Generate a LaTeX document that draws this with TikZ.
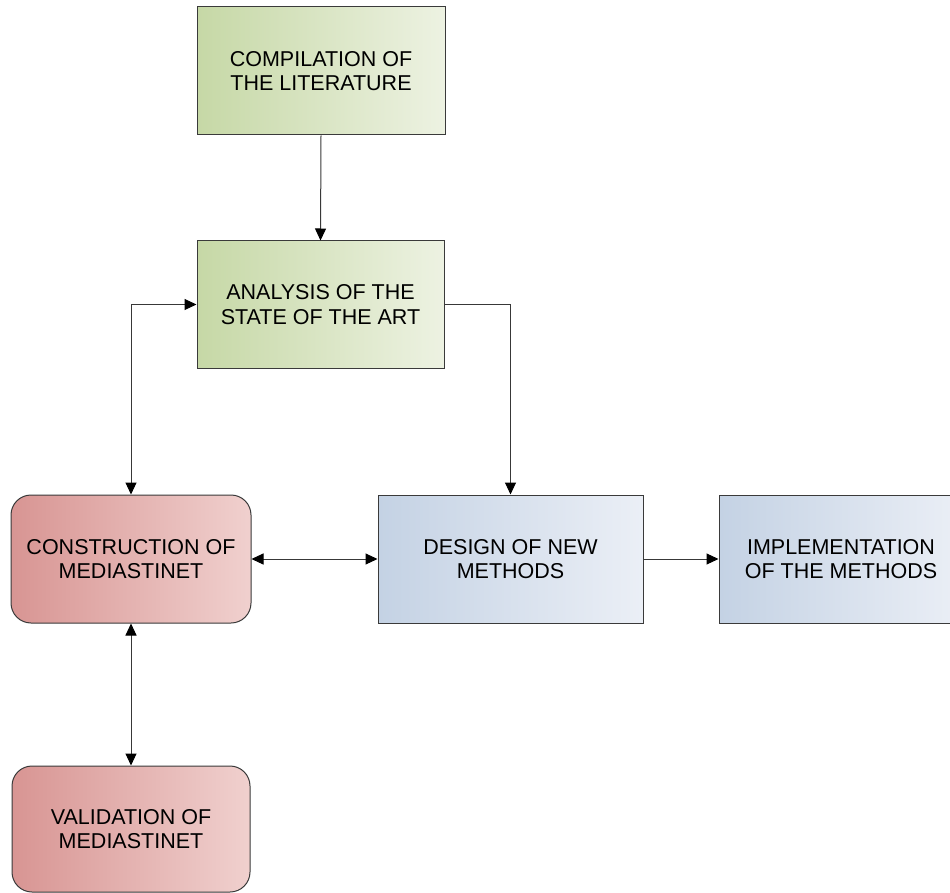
\documentclass[tikz,border=0pt]{standalone}
\usepackage{fontspec}
\setmainfont{Liberation Sans}
\usetikzlibrary{arrows.meta}

\definecolor{grnL}{HTML}{C6D8A6}
\definecolor{grnR}{HTML}{EDF2E2}
\definecolor{redL}{HTML}{D89593}
\definecolor{redR}{HTML}{F0D0CE}
\definecolor{bluL}{HTML}{C4D2E4}
\definecolor{bluR}{HTML}{EBEFF6}
\definecolor{edge}{HTML}{3A3A3A}
\definecolor{wire}{HTML}{383838}

\tikzset{
  box/.style={draw=edge, line width=1pt, align=center, text=black,
    inner sep=0pt, font=\fontsize{21.5}{24.7}\selectfont},
  greenbox/.style={box, left color=grnL, right color=grnR},
  bluebox/.style={box, left color=bluL, right color=bluR},
  redbox/.style={box, rounded corners=20pt, left color=redL, right color=redR},
  wirestyle/.style={draw=wire, line width=1pt},
  tip/.tip={Triangle[length=12pt, width=11pt, color=black]},
  flow/.style={wirestyle, -tip},
  both/.style={wirestyle, tip-tip}
}

\begin{document}
\begin{tikzpicture}[x=1pt, y=-1pt]
  \useasboundingbox (0,0) rectangle (950,893);
  \clip (0,0) rectangle (950,893);

  % process boxes
  \node[greenbox, minimum width=248, minimum height=128] (comp) at (321,71)
    {COMPILATION OF\\THE LITERATURE};
  \node[greenbox, minimum width=247, minimum height=127] (ana) at (320.5,304.5)
    {ANALYSIS OF THE\\STATE OF THE ART};
  \node[redbox, minimum width=240, minimum height=128] (cons) at (131,559)
    {CONSTRUCTION OF\\MEDIASTINET};
  \node[bluebox, minimum width=265, minimum height=128] (design) at (510.5,559)
    {DESIGN OF NEW\\METHODS};
  \node[bluebox, minimum width=244, minimum height=128] (impl) at (841,559)
    {IMPLEMENTATION\\OF THE METHODS};
  \node[redbox, minimum width=238, minimum height=126] (val) at (131,829)
    {VALIDATION OF\\MEDIASTINET};

  % connectors
  \draw[flow] (comp.south) -- (ana.north);
  \draw[flow] (ana.east) -| (design.north);
  \draw[both] (cons.north) |- (ana.west);
  \draw[both] (cons.east) -- (design.west);
  \draw[flow] (design.east) -- (impl.west);
  \draw[both] (cons.south) -- (val.north);
\end{tikzpicture}
\end{document}
